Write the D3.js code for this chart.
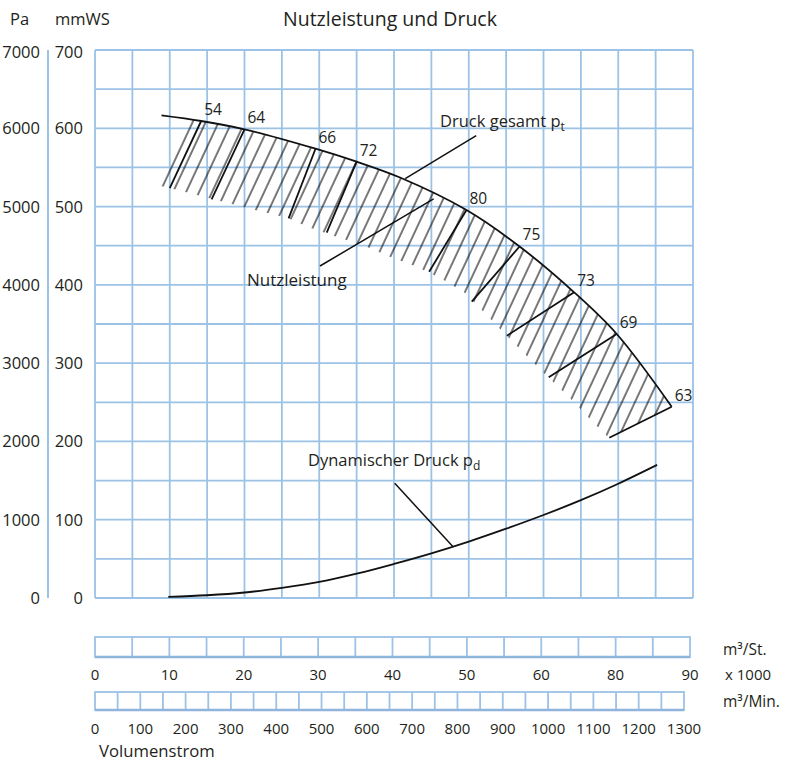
<!DOCTYPE html>
<html><head><meta charset="utf-8">
<script src="https://cdn.jsdelivr.net/npm/d3@7"></script>
<style>
html,body{margin:0;padding:0;background:#fff;}
text{font-family:"Open Sans",sans-serif;fill:#231f20;}
</style></head>
<body><svg id="c" width="788" height="763"></svg>
<script>
// ---------- data ----------
const title = "Nutzleistung und Druck";
const paTicks = [0,1000,2000,3000,4000,5000,6000,7000];
const mmwsLabels = ["0","100","200","300","400","500","600","700"];
// Volumenstrom (x 1000 m³/h) vs. Druck gesamt (Pa)
const totalPressure = [[8.9,6165],[14.2,6093],[20.0,5987],[29.5,5739],[35.0,5573],[40.8,5371],[49.7,4956],[56.8,4490],[64.1,3905],[69.8,3372],[77.15,2443]];
// Lower edge of the hatched Nutzleistung band
const powerLower = [[8.16,5276],[10.0,5237],[13.65,5148],[17.8,5046],[21.4,4955],[25.8,4853],[28.5,4739],[32.4,4611],[36.1,4496],[39.5,4356],[42.8,4241],[46.2,4088],[49.5,3896],[52.4,3615],[55.1,3347],[57.9,3079],[60.6,2823],[63.8,2529],[66.6,2248],[68.76,2044]];
const hatchStart = [12.26,6115];
// efficiency marks: value, point on curve (x,y), foot of marker line (x,y)
const effValues = [54,64,66,72,80,75,73,69,63];
const effTop = [[14.2,6093],[20.0,5987],[29.5,5739],[35.0,5573],[49.7,4956],[56.8,4490],[64.1,3905],[69.8,3372],[77.15,2443]];
const effFoot = [[10.0,5237],[15.6,5092],[25.9,4850],[31.0,4666],[44.7,4168],[50.4,3785],[55.1,3350],[60.7,2819],[68.8,2047]];
// Dynamischer Druck
const dynPressure = [[9.8,15],[15,35],[20,70],[25,130],[30,205],[35,310],[40,435],[45,570],[50,720],[55,885],[60,1060],[65,1250],[70,1460],[75.2,1700]];
// pointer lines for labels [from, to] in data units
const ptrTotal = [[41.5,5357],[51.0,5905]];
const ptrPower = [[30.1,4241],[45.3,5097]];
const ptrDyn = [[40.1,1465],[47.9,655]];
// bottom scales
const m3hLabels = ["0","10","20","30","40","50","60","80","90"];
const m3minTicks = [0,100,200,300,400,500,600,700,800,900,1000,1100,1200,1300];

// ---------- drawing ----------
const svg = d3.select("#c");
const grid = "#9cc2e6";
const x = d3.scaleLinear().domain([0,80]).range([95,693]);
const y = d3.scaleLinear().domain([0,7000]).range([598,50]);

// grid
const g = svg.append("g");
g.selectAll("line.v").data(d3.range(0,81,5)).join("line")
  .attr("x1",d=>x(d)).attr("x2",d=>x(d)).attr("y1",y(7000)).attr("y2",y(0))
  .attr("stroke",grid).attr("stroke-width",1.8);
g.selectAll("line.h").data(d3.range(0,7001,500)).join("line")
  .attr("x1",x(0)).attr("x2",x(80)).attr("y1",d=>y(d)).attr("y2",d=>y(d))
  .attr("stroke",grid).attr("stroke-width",1.8);

// left axis line
svg.append("line").attr("x1",48).attr("x2",48).attr("y1",y(7000)).attr("y2",y(0))
  .attr("stroke",grid).attr("stroke-width",2);
svg.append("text").attr("x",10).attr("y",25).attr("font-size",16.5).text("Pa");
svg.append("text").attr("x",55).attr("y",25).attr("font-size",16.5).text("mmWS");
svg.selectAll("text.pa").data(paTicks).join("text")
  .attr("x",40).attr("y",d=>y(d)+(d===7000?8:6)).attr("text-anchor","end").attr("font-size",16.5).text(d=>d);
svg.selectAll("text.mm").data(mmwsLabels).join("text")
  .attr("x",83).attr("y",(d,i)=>y(paTicks[i])+(i===7?8:6)).attr("text-anchor","end").attr("font-size",16.5).text(d=>d);

// title
svg.append("text").attr("x",390).attr("y",26).attr("text-anchor","middle").attr("font-size",19.5).text(title);

// hatch pattern
const defs = svg.append("defs");
const pat = defs.append("pattern").attr("id","hatch").attr("patternUnits","userSpaceOnUse")
  .attr("width",11.8).attr("height",20).attr("patternTransform","rotate(25)");
pat.append("line").attr("x1",2).attr("x2",2).attr("y1",0).attr("y2",20)
  .attr("stroke","#000").attr("stroke-width",1.05);

const lineM = d3.line().x(d=>x(d[0])).y(d=>y(d[1])).curve(d3.curveCatmullRom.alpha(0.5));
const lineL = d3.line().x(d=>x(d[0])).y(d=>y(d[1]));
const upper = [hatchStart].concat(totalPressure.filter(d=>d[0]>hatchStart[0]));
const bandPath = lineM(upper) + lineL(powerLower.slice().reverse()).replace(/^M/,"L") + "Z";
defs.append("clipPath").attr("id","band").append("path").attr("d",bandPath);
svg.append("rect").attr("x",0).attr("y",0).attr("width",788).attr("height",763)
  .attr("fill","url(#hatch)").attr("clip-path","url(#band)");

// efficiency marker lines
svg.selectAll("line.eff").data(effValues).join("line")
  .attr("x1",(d,i)=>x(effTop[i][0])).attr("y1",(d,i)=>y(effTop[i][1]))
  .attr("x2",(d,i)=>x(effFoot[i][0])).attr("y2",(d,i)=>y(effFoot[i][1]))
  .attr("stroke","#111").attr("stroke-width",1.8);
svg.selectAll("text.eff").data(effValues).join("text")
  .attr("x",(d,i)=>x(effTop[i][0])+3).attr("y",(d,i)=>y(effTop[i][1])-6)
  .attr("font-size",15.5).text(d=>d);

// total pressure curve
svg.append("path").attr("d",lineM(totalPressure)).attr("fill","none")
  .attr("stroke","#111").attr("stroke-width",1.8);
// dynamic pressure curve
svg.append("path").attr("d",lineM(dynPressure)).attr("fill","none")
  .attr("stroke","#111").attr("stroke-width",1.8);

// pointer lines
[ptrTotal,ptrPower,ptrDyn].forEach(p=>{
  svg.append("line").attr("x1",x(p[0][0])).attr("y1",y(p[0][1])).attr("x2",x(p[1][0])).attr("y2",y(p[1][1]))
    .attr("stroke","#111").attr("stroke-width",1.5);
});
const t1 = svg.append("text").attr("x",440).attr("y",127).attr("font-size",16.5);
t1.append("tspan").text("Druck gesamt p");
t1.append("tspan").attr("font-size",12).attr("dy",4).text("t");
svg.append("text").attr("x",247).attr("y",286).attr("font-size",17).text("Nutzleistung");
const t3 = svg.append("text").attr("x",308).attr("y",466).attr("font-size",16.5);
t3.append("tspan").text("Dynamischer Druck p");
t3.append("tspan").attr("font-size",12).attr("dy",4).text("d");

// bottom bar 1 (m³/St.)
const xb1 = d3.scaleLinear().domain([0,80]).range([95,690]);
const b1 = svg.append("g");
b1.append("rect").attr("x",xb1(0)).attr("y",637).attr("width",xb1(80)-xb1(0)).attr("height",20)
  .attr("fill","none").attr("stroke",grid).attr("stroke-width",1.8);
b1.selectAll("line").data(d3.range(5,80,5)).join("line")
  .attr("x1",d=>xb1(d)).attr("x2",d=>xb1(d)).attr("y1",637).attr("y2",657)
  .attr("stroke",grid).attr("stroke-width",1.8);
b1.append("line").attr("x1",xb1(0)).attr("x2",xb1(80)).attr("y1",657).attr("y2",657).attr("stroke","#8fb5dc").attr("stroke-width",2.4);
b1.selectAll("text").data(m3hLabels).join("text")
  .attr("x",(d,i)=>xb1(i*10)).attr("y",680).attr("text-anchor","middle").attr("font-size",15).text(d=>d);

// bottom bar 2 (m³/Min.)
const xb2 = d3.scaleLinear().domain([0,1300]).range([95,684]);
const b2 = svg.append("g");
b2.append("rect").attr("x",xb2(0)).attr("y",692).attr("width",xb2(1300)-xb2(0)).attr("height",18)
  .attr("fill","none").attr("stroke",grid).attr("stroke-width",1.8);
b2.selectAll("line").data(d3.range(50,1300,50)).join("line")
  .attr("x1",d=>xb2(d)).attr("x2",d=>xb2(d)).attr("y1",692).attr("y2",710)
  .attr("stroke",grid).attr("stroke-width",1.8);
b2.append("line").attr("x1",xb2(0)).attr("x2",xb2(1300)).attr("y1",710).attr("y2",710).attr("stroke","#8fb5dc").attr("stroke-width",2.4);
b2.selectAll("text").data(m3minTicks).join("text")
  .attr("x",d=>xb2(d)).attr("y",734).attr("text-anchor","middle").attr("font-size",15).text(d=>d);

svg.append("text").attr("x",723).attr("y",655).attr("font-size",15.5).text("m³/St.");
svg.append("text").attr("x",725).attr("y",680).attr("font-size",15).text("x 1000");
svg.append("text").attr("x",723).attr("y",707).attr("font-size",15.5).text("m³/Min.");
svg.append("text").attr("x",99).attr("y",757).attr("font-size",16.7).text("Volumenstrom");
</script></body></html>
